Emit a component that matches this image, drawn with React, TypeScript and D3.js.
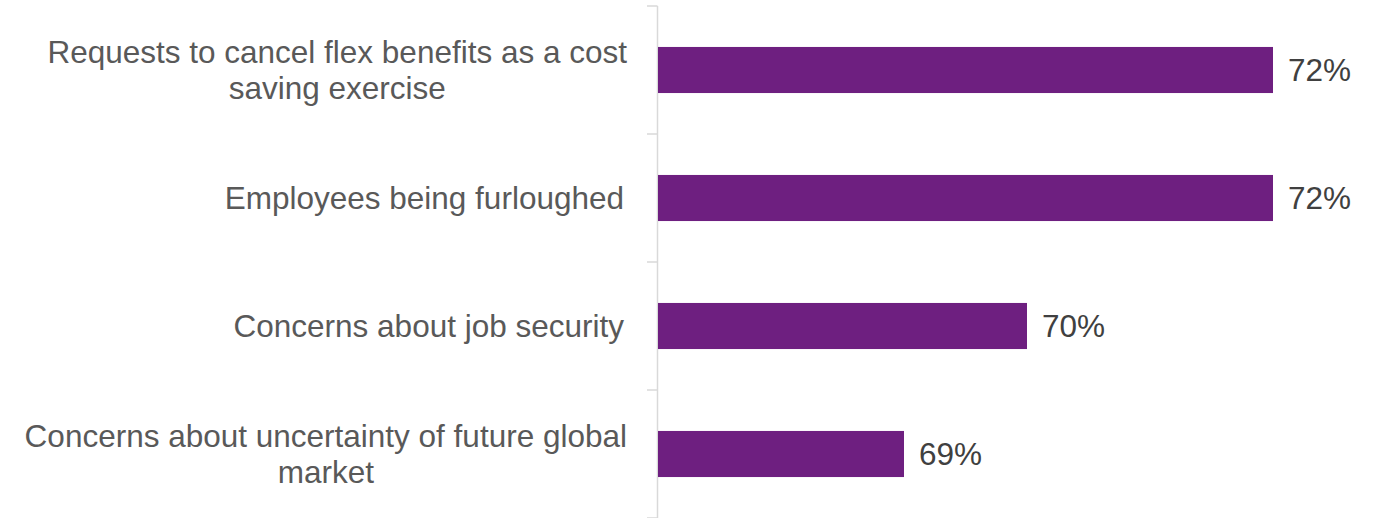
import React from "react";
import * as d3 from "d3";

const categories: string[][] = [
  ["Requests to cancel flex benefits as a cost", "saving exercise"],
  ["Employees being furloughed"],
  ["Concerns about job security"],
  ["Concerns about uncertainty of future global", "market"],
];
const values: number[] = [72, 72, 70, 69];
const valueLabels: string[] = ["72%", "72%", "70%", "69%"];

const W = 1381;
const H = 518;
const FONT = "'Liberation Sans', Arial, sans-serif";
const FS = 31.5;

function measure(s: string): number {
  const c = document.createElement("canvas").getContext("2d");
  if (!c) return s.length * FS * 0.5;
  c.font = `${FS}px 'Liberation Sans', Arial, sans-serif`;
  return c.measureText(s).width;
}

export default function App() {
  const axisX = 657.5;
  const labelRight = 627;
  const y = d3
    .scaleBand<number>()
    .domain(values.map((_, i) => i))
    .range([6, 518])
    .paddingInner(0.64)
    .paddingOuter(0.32);
  const x = d3.scaleLinear().domain([67, 72]).range([658, 1273]);
  const step = y.step();
  const tickYs = d3.range(values.length + 1).map((i) => 6 + i * step);
  return (
    <svg
      width={W}
      height={H}
      style={{ position: "absolute", left: 0, top: 0, background: "#fff" }}
    >
      <line x1={axisX} x2={axisX} y1={6} y2={H} stroke="#d9d9d9" strokeWidth={1.5} />
      {tickYs.map((ty, i) => (
        <line key={i} x1={647} x2={axisX} y1={ty} y2={ty} stroke="#d9d9d9" strokeWidth={1.5} />
      ))}
      {values.map((v, i) => {
        const by = y(i)!;
        const bh = y.bandwidth();
        const cy = by + bh / 2;
        const lines = categories[i];
        const multi = lines.length > 1;
        const maxW = multi ? Math.max(...lines.map(measure)) : 0;
        const cx = multi ? labelRight - maxW / 2 : 624;
        return (
          <g key={i}>
            <rect x={x(67)} y={by} width={x(v) - x(67)} height={bh} fill="#6e1f80" />
            <text
              x={x(v) + 15}
              y={cy}
              dy="0.35em"
              fontFamily={FONT}
              fontSize={FS}
              fill="#404040"
            >
              {valueLabels[i]}
            </text>
            <text
              fontFamily={FONT}
              fontSize={FS}
              fill="#595959"
              textAnchor={multi ? "middle" : "end"}
            >
              {lines.map((l, j) => (
                <tspan
                  key={j}
                  x={cx}
                  y={cy + (j - (lines.length - 1) / 2) * 36}
                  dy="0.35em"
                >
                  {l}
                </tspan>
              ))}
            </text>
          </g>
        );
      })}
    </svg>
  );
}
